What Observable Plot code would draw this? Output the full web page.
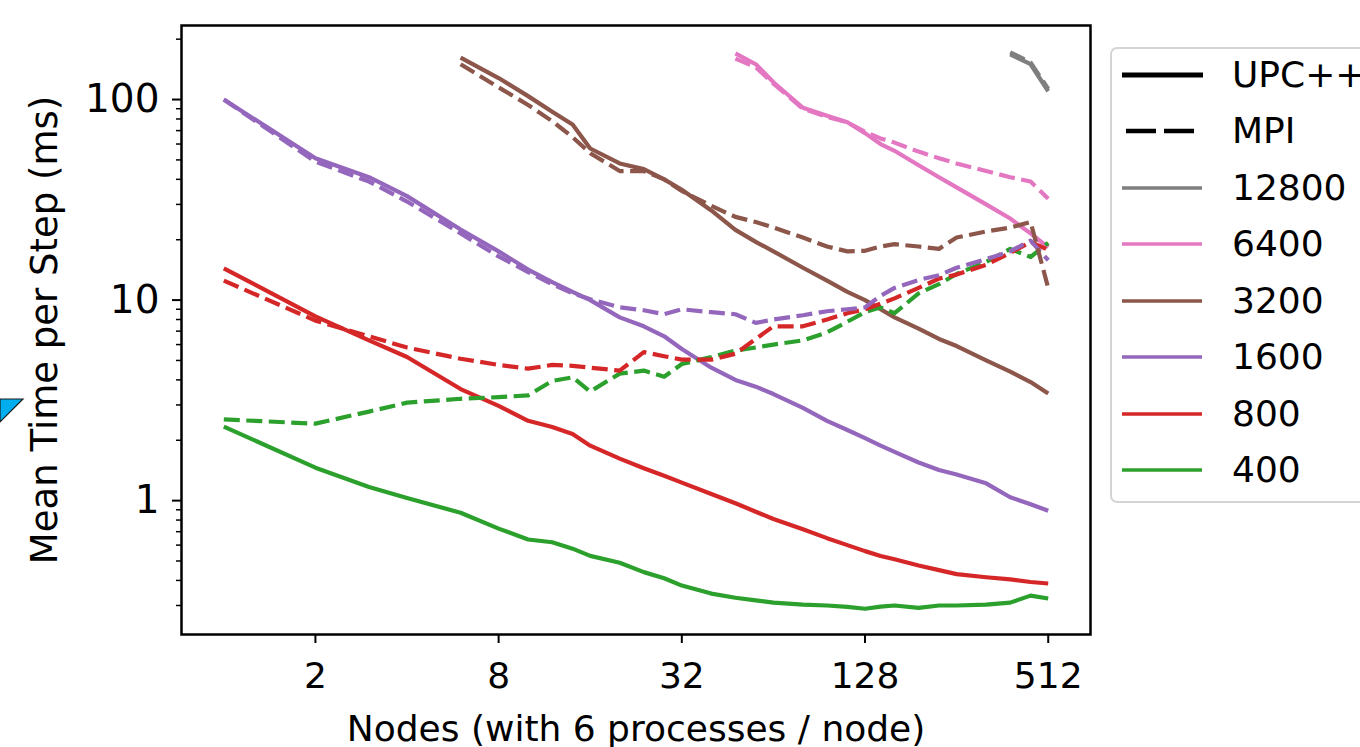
<!DOCTYPE html>
<html>
<head>
<meta charset="utf-8">
<script src="https://cdn.jsdelivr.net/npm/d3@7"></script>
<script src="https://cdn.jsdelivr.net/npm/@observablehq/plot@0.6"></script>
<style>
  html, body { margin: 0; padding: 0; background: white; }
  #wrap { position: relative; width: 1360px; height: 747px; overflow: hidden; background: white; font-family: "DejaVu Sans", sans-serif; }
  #legend { position: absolute; left: 1110px; top: 47px; width: 300px; height: 456px; border: 2px solid #d4d4d4; border-radius: 7px; background: white; box-sizing: border-box; }
  .lrow { position: absolute; left: 0; height: 40px; display: flex; align-items: center; }
  .lrow span { position: absolute; left: 120px; font-size: 36px; line-height: 40px; color: black; white-space: nowrap; }
  #tri { position: absolute; left: 0; top: 397px; }
</style>
</head>
<body>
<div id="wrap"></div>
<script>
// ---- data ----
const nodes = [1, 2, 3, 4, 6, 8, 10, 12, 14, 16, 20, 24, 28, 32, 40, 48, 56, 64, 80, 96, 112, 128, 144, 160, 192, 224, 256, 320, 384, 448, 512];
const sizes = ["12800", "6400", "3200", "1600", "800", "400"];
const colors = ["#7f7f7f", "#e377c2", "#8c564b", "#9467bd", "#d62728", "#2ca02c"];
const implementations = ["UPC++", "MPI"];

const _ = null;
const upc400 = [2.34, 1.46, 1.17, 1.03, 0.87, 0.725, 0.64, 0.62, 0.576, 0.53, 0.49, 0.44, 0.41, 0.377, 0.344, 0.328, 0.318, 0.31, 0.303, 0.30, 0.295, 0.289, 0.296, 0.30, 0.292, 0.30, 0.30, 0.303, 0.31, 0.336, 0.325];
const mpi400 = [2.54, 2.42, 2.78, 3.08, 3.22, 3.28, 3.35, 3.95, 4.12, 3.5, 4.3, 4.45, 4.15, 4.8, 5.2, 5.6, 5.8, 6.0, 6.3, 6.9, 7.8, 8.7, 9.2, 8.6, 10.8, 12.0, 13.5, 15.5, 18.0, 16.4, 19.3];
const upc800 = [14.4, 8.3, 6.3, 5.2, 3.6, 2.97, 2.5, 2.33, 2.15, 1.88, 1.62, 1.45, 1.33, 1.23, 1.08, 0.97, 0.88, 0.81, 0.72, 0.65, 0.60, 0.56, 0.53, 0.51, 0.475, 0.45, 0.43, 0.415, 0.405, 0.393, 0.386];
const mpi800 = [12.5, 7.9, 6.6, 5.8, 5.1, 4.75, 4.55, 4.75, 4.7, 4.6, 4.45, 5.5, 5.25, 5.05, 5.05, 5.4, 6.4, 7.4, 7.4, 8.0, 8.6, 9.0, 9.6, 10.2, 11.5, 12.8, 13.4, 15.0, 17.2, 19.5, 17.8];
const upc1600 = [100, 51, 41, 33, 22.5, 17.5, 14.2, 12.3, 11.0, 10.0, 8.2, 7.4, 6.6, 5.7, 4.6, 4.0, 3.7, 3.4, 2.9, 2.5, 2.25, 2.05, 1.88, 1.75, 1.55, 1.42, 1.35, 1.22, 1.04, 0.96, 0.89];
const mpi1600 = [100, 49, 39, 31, 21.5, 16.5, 13.8, 12.0, 10.8, 10.1, 9.2, 8.9, 8.5, 9.0, 8.7, 8.5, 7.7, 8.0, 8.4, 8.8, 9.0, 9.2, 10.5, 11.5, 12.6, 13.3, 14.5, 16.0, 17.5, 19.8, 15.8];
const upc3200 = [_, _, _, _, 162, 128, 104, 87, 75, 57, 48, 45, 40, 35.5, 28, 22.4, 19.5, 17.5, 14.5, 12.5, 11.0, 10.0, 9.0, 8.2, 7.2, 6.4, 5.9, 5.0, 4.4, 3.9, 3.42];
const mpi3200 = [_, _, _, _, 150, 115, 94, 78, 65, 54, 44, 44, 40, 35, 29.5, 26, 24.5, 23, 20.5, 18.5, 17.5, 17.6, 18.5, 19.0, 18.5, 18.0, 20.5, 22, 23, 24.5, 11.5];
const upc6400 = [_, _, _, _, _, _, _, _, _, _, _, _, _, _, _, 170, 150, 122, 91, 83, 77, 68, 60, 55.5, 47, 41, 36.5, 30, 25.5, 21.5, 18.3];
const mpi6400 = [_, _, _, _, _, _, _, _, _, _, _, _, _, _, _, 160, 145, 120, 90, 82, 77, 69, 64, 61, 55, 51, 48, 44, 41, 39, 32];
const upc12800 = [_, _, _, _, _, _, _, _, _, _, _, _, _, _, _, _, _, _, _, _, _, _, _, _, _, _, _, _, 168, 150, 110];
const mpi12800 = [_, _, _, _, _, _, _, _, _, _, _, _, _, _, _, _, _, _, _, _, _, _, _, _, _, _, _, _, 172, 153, 113];

const xTicks = [2, 8, 32, 128, 512];
const yTicks = [1, 10, 100];
const yMinorTicks = [0.3, 0.4, 0.5, 0.6, 0.7, 0.8, 0.9, 2, 3, 4, 5, 6, 7, 8, 9, 20, 30, 40, 50, 60, 70, 80, 90, 200];
const xLabel = "Nodes (with 6 processes / node)";
const yLabel = "Mean Time per Step (ms)";

// ---- table ----
const seriesBySize = {
  "400": [upc400, mpi400], "800": [upc800, mpi800], "1600": [upc1600, mpi1600],
  "3200": [upc3200, mpi3200], "6400": [upc6400, mpi6400], "12800": [upc12800, mpi12800]
};
const rows = [];
for (const size of ["400", "800", "1600", "3200", "6400", "12800"]) {
  seriesBySize[size].forEach((vals, k) => {
    vals.forEach((v, i) => { if (v != null) rows.push({size, impl: implementations[k], n: nodes[i], v}); });
  });
}

const chart = Plot.plot({
  width: 1360, height: 747,
  marginLeft: 181, marginRight: 270, marginTop: 25, marginBottom: 113,
  style: {fontFamily: "DejaVu Sans", fontSize: "36px", color: "black", background: "white", overflow: "visible"},
  x: {type: "log", base: 2, domain: [0.726, 705], label: null},
  y: {type: "log", domain: [0.215, 234], label: null},
  color: {domain: sizes, range: colors},
  marks: [
    Plot.line(rows.filter(d => d.impl === "UPC++"), {x: "n", y: "v", z: "size", stroke: "size", strokeWidth: 4.2, strokeLinecap: "butt"}),
    Plot.line(rows.filter(d => d.impl === "MPI"), {x: "n", y: "v", z: "size", stroke: "size", strokeWidth: 4.2, strokeDasharray: "16,6.5", strokeLinecap: "butt"}),
    Plot.frame({stroke: "black", strokeWidth: 2.5}),
    Plot.axisX({ticks: xTicks, tickFormat: d => String(d), tickSize: 9, tickPadding: 19, label: null, strokeWidth: 2}),
    Plot.axisY({ticks: yTicks, tickFormat: d => String(d), tickSize: 9, tickPadding: 13, label: null, strokeWidth: 2, fontSize: 39}),
    Plot.axisY({ticks: yMinorTicks, tickFormat: () => "", tickSize: 5, label: null, strokeWidth: 1.5}),
    Plot.text([xLabel], {frameAnchor: "bottom", dy: 106, fontSize: 36, fill: "black"}),
    Plot.text([yLabel], {frameAnchor: "left", dx: -136, rotate: -90, textAnchor: "middle", fontSize: 37, fill: "black"})
  ]
});

const wrap = document.getElementById("wrap");
wrap.appendChild(chart);

// ---- legend ----
const legend = document.createElement("div");
legend.id = "legend";
const entries = [
  {label: "UPC++", color: "black", width: 5, dash: null, x1: 10, x2: 91},
  {label: "MPI", color: "black", width: 4.5, dash: "30,8", x1: 14, x2: 82},
  ...sizes.map((s, i) => ({label: s, color: colors[i], width: 3.5, dash: null, x1: 10, x2: 90}))
];
entries.forEach((e, i) => {
  const cy = 75 + i * 56.45 - 49; // relative to legend box content
  const row = document.createElement("div");
  row.className = "lrow";
  row.style.top = (cy - 20) + "px";
  row.innerHTML = `<svg width="110" height="40" style="position:absolute;left:0;top:0">
      <line x1="${e.x1}" x2="${e.x2}" y1="20" y2="20" stroke="${e.color}" stroke-width="${e.width}" ${e.dash ? `stroke-dasharray="${e.dash}"` : ""}/>
    </svg><span>${e.label}</span>`;
  legend.appendChild(row);
});
wrap.appendChild(legend);

// ---- decoration at left edge ----
const tri = document.createElement("div");
tri.id = "tri";
tri.innerHTML = `<svg width="26" height="28"><polygon points="0,2 23,2 0,25" fill="#00aeef" stroke="#1a1a1a" stroke-width="1.2"/></svg>`;
wrap.appendChild(tri);
</script>
</body>
</html>
